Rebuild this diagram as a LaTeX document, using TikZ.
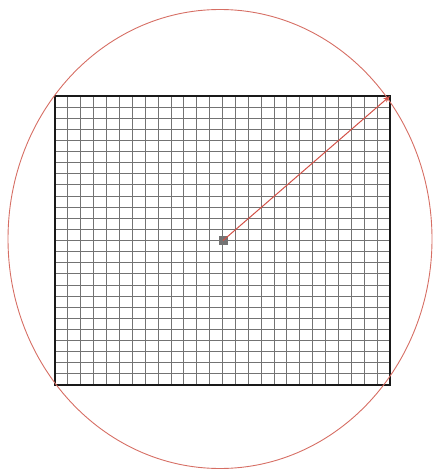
\documentclass[tikz,border=0pt]{standalone}
\usetikzlibrary{arrows.meta}
\definecolor{ringred}{RGB}{214,110,100}
\definecolor{arrowred}{RGB}{210,80,70}
\begin{document}
\begin{tikzpicture}[x=1pt,y=-1pt,
  gridline/.style={draw=black!55,line width=0.9pt},
  frame/.style={draw=black!90,line width=1.8pt},
  ring/.style={draw=ringred,line width=0.9pt},
  pointer/.style={draw=arrowred,line width=1pt,-{Stealth[length=7pt,width=5pt]}},
  centrebox/.style={fill=black!55,minimum size=9pt,inner sep=0pt,draw=none}]
\useasboundingbox (0,0) rectangle (433,470);
\coordinate (tl) at (55,96);
\coordinate (br) at (390,385);
\coordinate (tr) at (390,96);
\foreach \i in {1,...,25} {
  \draw[gridline] ({55+\i*335/26},96) -- ({55+\i*335/26},385);
  \draw[gridline] (55,{96+\i*289/26}) -- (390,{96+\i*289/26});
}
\draw[frame] (tl) rectangle (br);
\draw[ring] (220,239) ellipse [x radius=212, y radius=229.5];
\node[centrebox] (c) at (223,240.5) {};
\draw[pointer] (c.center) -- (tr);
\end{tikzpicture}
\end{document}
